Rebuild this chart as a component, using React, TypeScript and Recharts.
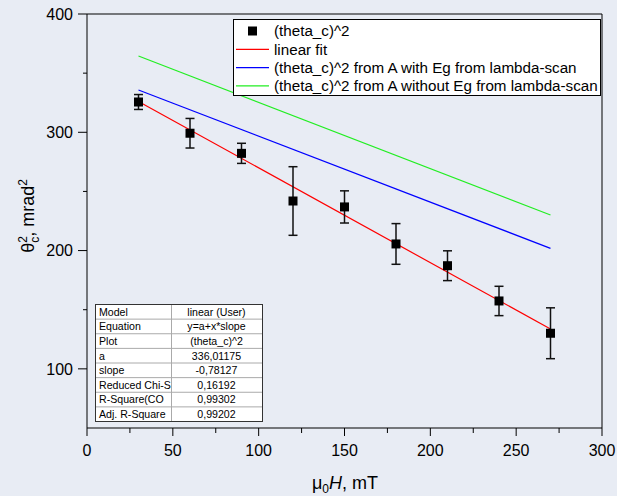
import React from 'react';
import { ComposedChart, XAxis, YAxis, Scatter, Line, ErrorBar, ReferenceLine } from 'recharts';

const fieldH = [30, 60, 90, 120, 150, 180, 210, 240, 270];
const thetaSq = [325.6, 299.2, 282.2, 241.9, 236.9, 205.6, 187.2, 157.4, 130.1];
const thetaErr = [6.3, 12.5, 8.5, 29, 13.6, 17.2, 12.6, 12.4, 21.5];

const lineX = [30, 270];
const linearFit = [326, 133.7];
const withEg = [335.8, 201.9];
const withoutEg = [364.5, 230.1];

const xTicks = [0, 25, 50, 75, 100, 125, 150, 175, 200, 225, 250, 275, 300];
const yTicks = [100, 150, 200, 250, 300, 350, 400];

const legendLabels = [
  '(theta_c)^2',
  'linear fit',
  '(theta_c)^2 from A with Eg from lambda-scan',
  '(theta_c)^2 from A without Eg from lambda-scan',
];
const legendColors = ['#000000', '#FF0000', '#0000FF', '#22EE22'];

const tableKeys = ['Model', 'Equation', 'Plot', 'a', 'slope', 'Reduced Chi-S', 'R-Square(CO', 'Adj. R-Square'];
const tableValues = ['linear (User)', 'y=a+x*slope', '(theta_c)^2', '336,01175', '-0,78127', '0,16192', '0,99302', '0,99202'];

const FONT = '"Liberation Sans", Arial, sans-serif';
const BG = '#E8ECF4';

const pointData = fieldH.map((x, i) => ({ x, y: thetaSq[i], err: thetaErr[i] }));
const mkLine = (vals: number[]) => lineX.map((x, i) => ({ x, y: vals[i] }));

const XTick = (props: any) => {
  const { x, y, payload } = props;
  const major = payload.value % 50 === 0;
  return (
    <g>
      <line x1={x} y1={y} x2={x} y2={y + (major ? 8 : 5)} stroke="#000" strokeWidth={1} />
      {major && (
        <text x={x} y={y + 28} textAnchor="middle" fontSize={16} fill="#000" fontFamily={FONT}>
          {payload.value}
        </text>
      )}
    </g>
  );
};

const YTick = (props: any) => {
  const { x, y, payload } = props;
  const major = payload.value % 100 === 0;
  return (
    <g>
      <line x1={x - (major ? 9 : 4)} y1={y} x2={x} y2={y} stroke="#000" strokeWidth={1} />
      {major && (
        <text x={x - 14} y={y} dy="0.36em" textAnchor="end" fontSize={16} fill="#000" fontFamily={FONT}>
          {payload.value}
        </text>
      )}
    </g>
  );
};

const Square = (p: any) => <rect x={p.cx - 4.5} y={p.cy - 4.5} width={9} height={9} fill="#000" />;

export default function App() {
  const tx = 95, ty = 304, tw = 167, rowH = 14.625, colX = 171;
  return (
    <div style={{ position: 'absolute', left: 0, top: 0, width: 617, height: 496, background: BG, fontFamily: FONT }}>
      <ComposedChart width={617} height={496} data={pointData} margin={{ top: 14, right: 15, left: 0, bottom: 0 }}>
        <XAxis
          dataKey="x"
          type="number"
          domain={[0, 300]}
          ticks={xTicks}
          interval={0}
          height={68}
          tickSize={0}
          tickMargin={0}
          tickLine={false}
          axisLine={{ stroke: '#000', strokeWidth: 1 }}
          tick={<XTick />}
        />
        <YAxis
          type="number"
          domain={[50, 400]}
          ticks={yTicks}
          interval={0}
          width={87}
          tickSize={0}
          tickMargin={0}
          tickLine={false}
          axisLine={{ stroke: '#000', strokeWidth: 1 }}
          tick={<YTick />}
        />
        <ReferenceLine y={400} stroke="#000" strokeWidth={1} />
        <ReferenceLine x={300} stroke="#000" strokeWidth={1} />
        <Line data={mkLine(withoutEg)} dataKey="y" stroke="#22EE22" strokeWidth={1.2} dot={false} activeDot={false} isAnimationActive={false} />
        <Line data={mkLine(withEg)} dataKey="y" stroke="#0000FF" strokeWidth={1.2} dot={false} activeDot={false} isAnimationActive={false} />
        <Line data={mkLine(linearFit)} dataKey="y" stroke="#FF0000" strokeWidth={1.2} dot={false} activeDot={false} isAnimationActive={false} />
        <Scatter data={pointData} dataKey="y" shape={<Square />} isAnimationActive={false}>
          <ErrorBar dataKey="err" direction="y" width={4.5} stroke="#111" strokeWidth={1.5} />
        </Scatter>
      </ComposedChart>
      <svg width={617} height={496} style={{ position: 'absolute', left: 0, top: 0, pointerEvents: 'none' }}>
        {/* Legend */}
        <rect x={233.5} y={19.5} width={367} height={76} fill="#fff" stroke="#000" strokeWidth={1} />
        {legendLabels.map((lab, i) => {
          const cy = 31 + i * 18.3;
          return (
            <g key={lab}>
              {i === 0 ? (
                <rect x={248} y={cy - 4.5} width={9} height={9} fill="#000" />
              ) : (
                <line x1={236} y1={cy} x2={269} y2={cy} stroke={legendColors[i]} strokeWidth={1.2} />
              )}
              <text x={274} y={cy} dy="0.36em" fontSize={15.2} fill="#000" fontFamily={FONT}>
                {lab}
              </text>
            </g>
          );
        })}
        {/* Stats table */}
        <rect x={tx + 0.5} y={ty + 0.5} width={tw} height={rowH * 8} fill="#fff" stroke="#333" strokeWidth={1} />
        {tableKeys.slice(1).map((_, i) => (
          <line key={i} x1={tx + 1} y1={ty + 0.5 + rowH * (i + 1)} x2={tx + tw} y2={ty + 0.5 + rowH * (i + 1)} stroke="#aaa" strokeWidth={1} />
        ))}
        <line x1={colX + 0.5} y1={ty + 1} x2={colX + 0.5} y2={ty + rowH * 8} stroke="#aaa" strokeWidth={1} />
        {tableKeys.map((k, i) => (
          <g key={k}>
            <text x={tx + 4} y={ty + rowH * i + rowH / 2 + 0.5} dy="0.36em" fontSize={10.6} fill="#000" fontFamily={FONT}>
              {k}
            </text>
            <text x={(colX + tx + tw) / 2} y={ty + rowH * i + rowH / 2 + 0.5} dy="0.36em" textAnchor="middle" fontSize={10.6} fill="#000" fontFamily={FONT}>
              {tableValues[i]}
            </text>
          </g>
        ))}
        {/* Y axis label */}
        <text transform="rotate(-90, 34, 216)" x={34} y={216} textAnchor="middle" fontSize={18} fill="#000" fontFamily={FONT}>
          θ<tspan dy={-7} fontSize={12}>2</tspan>
          <tspan dx={-6.7} dy={12} fontSize={12}>c</tspan>
          <tspan dy={-5}>, mrad</tspan>
          <tspan dy={-7} fontSize={12}>2</tspan>
        </text>
        {/* X axis label */}
        <text x={345} y={489} textAnchor="middle" fontSize={18} fill="#000" fontFamily={FONT}>
          μ<tspan dy={4} fontSize={12}>0</tspan>
          <tspan dy={-4} fontStyle="italic">H</tspan>
          <tspan>, mT</tspan>
        </text>
      </svg>
    </div>
  );
}
